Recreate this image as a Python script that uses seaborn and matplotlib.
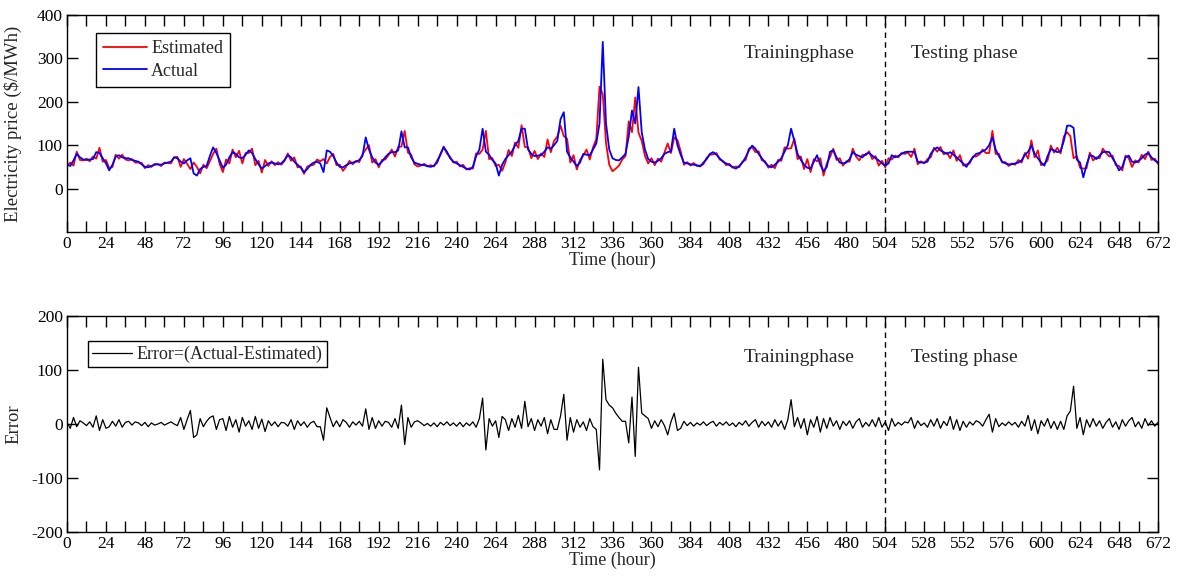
import numpy as np
import pandas as pd
import matplotlib
matplotlib.use("Agg")
import matplotlib.pyplot as plt
import seaborn as sns
from matplotlib.ticker import MultipleLocator

# ---------------- data (2-hour resolution, hours 0..672) ----------------
hours = np.arange(0, 673, 2)

actual_price = [
    56, 52, 65, 80, 72, 67, 66, 67, 68, 84, 82, 70,
    58, 42, 55, 74, 77, 72, 70, 70, 66, 64, 62, 56,
    50, 49, 52, 55, 56, 55, 58, 60, 62, 72, 70, 62,
    58, 65, 70, 35, 30, 45, 50, 52, 75, 95, 82, 65,
    48, 55, 72, 84, 80, 72, 70, 78, 88, 82, 68, 56,
    46, 52, 58, 60, 58, 56, 58, 66, 77, 72, 62, 55,
    48, 38, 45, 55, 60, 62, 58, 38, 88, 85, 75, 60,
    50, 49, 54, 58, 60, 62, 66, 75, 118, 90, 72, 60,
    55, 62, 72, 80, 84, 84, 88, 132, 95, 95, 72, 60,
    57, 55, 54, 52, 50, 53, 60, 80, 95, 85, 70, 62,
    58, 54, 50, 46, 44, 50, 75, 90, 138, 85, 78, 66,
    58, 30, 55, 68, 77, 85, 100, 110, 138, 138, 90, 80,
    75, 76, 77, 85, 95, 92, 100, 110, 160, 176, 85, 72,
    62, 52, 60, 80, 78, 77, 90, 104, 150, 338, 150, 90,
    70, 66, 65, 72, 80, 120, 180, 150, 234, 130, 90, 68,
    62, 60, 64, 70, 80, 84, 86, 138, 100, 78, 60, 58,
    56, 55, 54, 51, 60, 68, 80, 84, 78, 70, 62, 58,
    54, 50, 46, 52, 60, 72, 88, 99, 92, 80, 70, 60,
    52, 49, 55, 62, 70, 85, 100, 138, 110, 80, 66, 55,
    48, 46, 62, 77, 55, 40, 50, 85, 88, 72, 60, 58,
    60, 68, 84, 78, 75, 72, 80, 82, 76, 70, 65, 58,
    53, 58, 77, 72, 75, 80, 84, 85, 85, 84, 62, 60,
    60, 62, 80, 90, 95, 88, 84, 80, 84, 78, 72, 65,
    58, 50, 62, 72, 80, 82, 86, 90, 100, 118, 90, 75,
    62, 58, 56, 56, 58, 60, 65, 78, 85, 99, 80, 70,
    60, 53, 75, 91, 88, 84, 86, 110, 145, 145, 140, 67,
    60, 26, 55, 77, 75, 68, 76, 84, 85, 84, 70, 58,
    42, 50, 72, 76, 62, 60, 64, 70, 78, 82, 72, 65,
    60,
]

error_values = [
    3, -8, 12, -5, 6, 2, -3, 4, -6, 15, -12, 8,
    -8, -5, 5, -4, 8, -6, 3, 5, -2, 4, 2, -3,
    3, -5, 2, -2, 0, 3, -2, 1, 4, 0, -3, 12,
    -10, 8, 25, -25, -20, 10, -5, 5, 12, 15, -10, 8,
    10, -12, 14, -6, 8, -15, 12, -4, 6, -10, 14, -8,
    9, -14, 6, -3, 4, -5, 3, 2, -4, 8, -10, 6,
    -3, 4, -6, 2, 5, -5, -5, -30, 30, 12, -5, 6,
    -5, 8, 3, -6, 4, -2, 5, -4, 28, -10, 12, -8,
    6, -4, 5, 3, -6, 10, -8, 35, -38, 12, -6, 4,
    6, 2, -3, 1, -4, 2, -5, 3, -2, 4, -3, 2,
    -4, 3, -5, 2, -3, 4, -6, 10, 48, -48, 10, -4,
    6, -25, 14, 8, -12, 10, -6, 16, -8, 42, -5, 10,
    -12, 8, -4, 12, -18, 8, -10, -10, 15, 55, -30, 12,
    -15, 8, -6, 4, -12, 10, -5, -10, -85, 120, 45, 35,
    30, 20, 12, 5, 5, -35, 50, -60, 105, 20, 15, 10,
    -8, 6, -5, 8, -3, -20, 4, 20, -12, -8, 5, -3,
    3, -4, 2, -2, 4, -3, 2, 5, -4, 3, -2, 4,
    -3, 2, -5, 3, -2, 6, -4, 3, 8, -6, 5, -3,
    4, -6, 8, -4, 6, -10, 8, 45, -5, 12, -8, 10,
    -20, 8, -6, 14, -15, 10, -8, 12, -4, 6, -10, 5,
    -3, 6, -8, 4, 10, -6, 3, -4, 8, -5, 12, -6,
    4, -12, 10, -4, 3, -2, 4, 2, 12, -8, 6, -3,
    2, -6, 8, -4, 10, -8, 5, -3, 14, -10, 8, -12,
    5, -6, 4, -2, 6, 3, -4, 8, 18, -15, 10, -5,
    2, -3, 4, -2, 3, -6, 5, -4, 16, -12, 8, -18,
    6, -4, 10, -8, 5, -10, 5, -10, 15, 24, 70, -8,
    12, -20, 8, -6, 10, -4, 6, -8, 3, 10, -6, 4,
    -10, 8, -4, 6, 12, -5, 4, -8, 10, -3, 6, -4,
    3,
]

x_ticks = list(range(0, 673, 24))
price_ticks = [0, 100, 200, 300, 400]
error_ticks = [-200, -100, 0, 100, 200]
split_hour = 504

actual = np.array(actual_price, dtype=float)
error = np.array(error_values, dtype=float)
estimated = actual - error

df = pd.DataFrame({"hour": hours, "Actual": actual,
                   "Estimated": estimated, "Error": error})

# ---------------- style ----------------
sns.set_style("ticks")
plt.rcParams["font.family"] = ["Liberation Serif", "DejaVu Serif"]
plt.rcParams["axes.edgecolor"] = "black"
plt.rcParams["axes.linewidth"] = 1.0
plt.rcParams["axes.unicode_minus"] = False

W, H = 1186, 577
fig = plt.figure(figsize=(W / 100, H / 100), dpi=100)
ax1 = fig.add_axes([67 / W, 1 - 232 / H, (1158 - 67) / W, (232 - 15) / H])
ax2 = fig.add_axes([67 / W, 1 - 532 / H, (1158 - 67) / W, (532 - 316) / H])

FS = 12.5
PH = 14

# ---------------- top panel ----------------
sns.lineplot(data=df, x="hour", y="Estimated", ax=ax1, color="#ff0000",
             lw=1.3, label="Estimated")
sns.lineplot(data=df, x="hour", y="Actual", ax=ax1, color="#0000ff",
             lw=1.3, label="Actual")
ax1.set_xlim(0, 672)
ax1.set_ylim(-100, 400)
ax1.set_yticks(price_ticks)
ax1.set_ylabel("Electricity price ($/MWh)", fontsize=13.5)
ax1.set_xlabel("Time (hour)", fontsize=13, labelpad=0)
ax1.axvline(split_hour, color="black", lw=1.0, ls=(0, (4, 3)))
ax1.text(451, 312, "Trainingphase", fontsize=PH, ha="center", va="center")
ax1.text(553, 312, "Testing phase", fontsize=PH, ha="center", va="center")
leg1 = ax1.legend(loc="upper left", bbox_to_anchor=(0.0266, 0.917),
                  borderaxespad=0, fancybox=False, edgecolor="black",
                  framealpha=1, fontsize=13, handlelength=2.4,
                  handletextpad=0.25, labelspacing=0.3, borderpad=0.4)
leg1.get_frame().set_linewidth(1.0)

# ---------------- bottom panel ----------------
sns.lineplot(data=df, x="hour", y="Error", ax=ax2, color="black",
             lw=0.9, label="Error=(Actual-Estimated)")
ax2.set_xlim(0, 672)
ax2.set_ylim(-200, 200)
ax2.set_yticks(error_ticks)
ax2.set_ylabel("Error", fontsize=13.5)
ax2.set_xlabel("Time (hour)", fontsize=13, labelpad=0)
ax2.axvline(split_hour, color="black", lw=1.0, ls=(0, (4, 3)))
ax2.text(451, 124, "Trainingphase", fontsize=PH, ha="center", va="center")
ax2.text(553, 124, "Testing phase", fontsize=PH, ha="center", va="center")
leg2 = ax2.legend(loc="upper left", bbox_to_anchor=(0.0192, 0.884),
                  borderaxespad=0, fancybox=False, edgecolor="black",
                  framealpha=1, fontsize=13, handlelength=2.2,
                  handletextpad=0.25, borderpad=0.25)
leg2.get_frame().set_linewidth(1.0)

for ax in (ax1, ax2):
    ax.set_xticks(x_ticks)
    ax.xaxis.set_minor_locator(MultipleLocator(12))
    ax.tick_params(axis="both", which="both", direction="in", top=True,
                   right=True, length=8, width=1, labelsize=FS, pad=3,
                   colors="black")
    for s in ax.spines.values():
        s.set_visible(True)
        s.set_color("black")
        s.set_linewidth(1.0)
    ax.yaxis.set_label_coords(-0.041, 0.5)

fig.savefig("out.png", dpi=100, facecolor="white")
